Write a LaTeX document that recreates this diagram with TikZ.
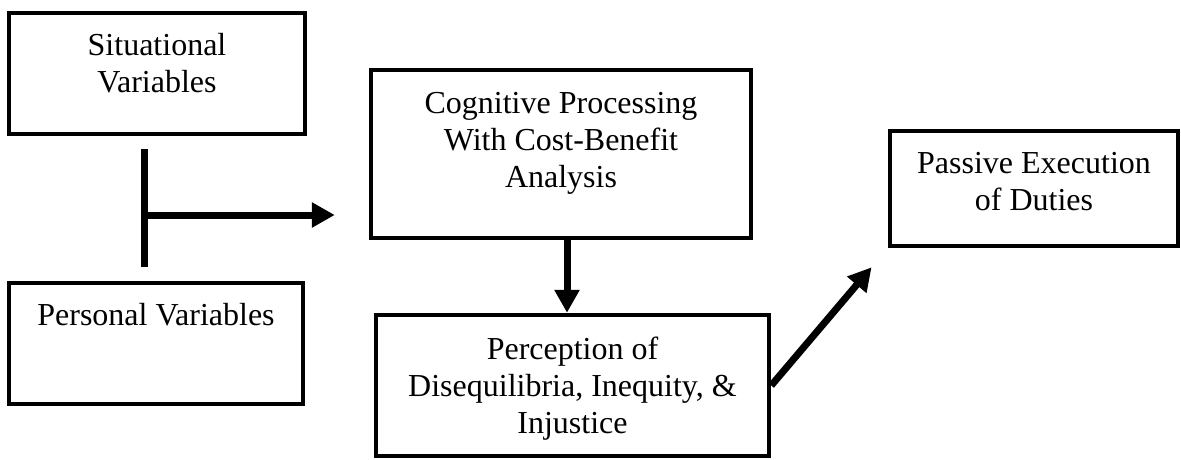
\documentclass[tikz,border=0pt]{standalone}
\usepackage{fontspec}
\setmainfont{Liberation Serif}
\usetikzlibrary{arrows.meta,positioning}

\tikzset{
  box/.style={draw, line width=4.5pt, inner sep=0pt},
  lbl/.style={inner sep=0pt, align=center, font=\fontsize{32}{37}\selectfont},
  link/.style={line width=7pt},
  arr/.style={link, -{Triangle[length=23pt,width=24pt]}}
}

\begin{document}
\begin{tikzpicture}[x=1pt, y=-1pt]
  \useasboundingbox (0,0) rectangle (1181,460);

  % boxes
  \node[box, minimum width=296pt, minimum height=121pt] (sit) at (157,73.5) {};
  \node[box, minimum width=294pt, minimum height=121pt] (pers) at (156,343.5) {};
  \node[box, minimum width=380pt, minimum height=168pt] (cog) at (561,154) {};
  \node[box, minimum width=393pt, minimum height=141pt] (perc) at (572.5,385.5) {};
  \node[box, minimum width=288pt, minimum height=115pt] (pass) at (1034,188.5) {};

  % texts
  \node[lbl, below=22pt of sit.north] (sittxt) {Situational\\Variables};
  \node[lbl, below=22pt of pers.north] (perstxt) {Personal Variables};
  \node[lbl, below=24pt of cog.north] (cogtxt) {Cognitive Processing\\With Cost-Benefit\\Analysis};
  \node[lbl, below=24pt of perc.north] (perctxt) {Perception of\\Disequilibria, Inequity, \&\\Injustice};
  \node[lbl, below=23pt of pass.north] (passtxt) {Passive Execution\\of Duties};

  % joining bar
  \coordinate (jtop) at (144,149);
  \coordinate (jbot) at (144,267);
  \coordinate (jmid) at (144,215);
  \draw[link] (jtop) -- (jbot);

  % arrows
  \draw[arr, shorten >=34pt] (jmid) -- (jmid -| cog.west);
  \draw[arr] ([xshift=6pt]cog.south) -- ([xshift=6pt]cog.south |- perc.north);
  \draw[arr, shorten >=25pt] (perc.east) -- (pass.south west);
\end{tikzpicture}
\end{document}
